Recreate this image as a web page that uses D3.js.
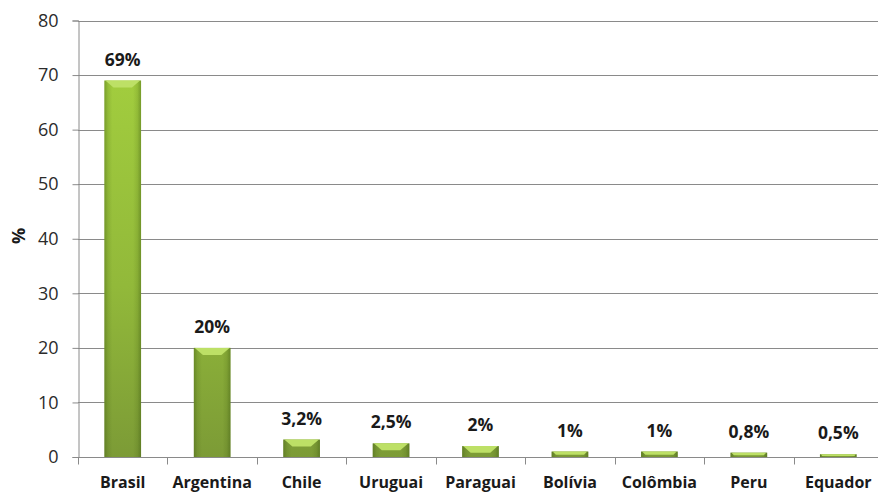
<!DOCTYPE html>
<html>
<head>
<meta charset="utf-8">
<script src="https://cdn.jsdelivr.net/npm/d3@7"></script>
<style>
  html, body { margin: 0; padding: 0; background: #fff; }
  svg { display: block; }
</style>
</head>
<body>
<svg id="chart" width="878" height="493"></svg>
<script>
const countries = ["Brasil", "Argentina", "Chile", "Uruguai", "Paraguai", "Bolívia", "Colômbia", "Peru", "Equador"];
const shares = [69, 20, 3.2, 2.5, 2, 1, 1, 0.8, 0.5];
const shareLabels = ["69%", "20%", "3,2%", "2,5%", "2%", "1%", "1%", "0,8%", "0,5%"];
const yTicks = [0, 10, 20, 30, 40, 50, 60, 70, 80];

const svg = d3.select("#chart");
const plotLeft = 78, plotRight = 883, plotTop = 20.5, plotBottom = 457;
const font = "'Open Sans', sans-serif";

const x = d3.scaleBand().domain(countries).range([plotLeft, plotRight]).paddingInner(0.59).paddingOuter(0.295);
const y = d3.scaleLinear().domain([0, 80]).range([plotBottom, plotTop]);

// bar gradients: bright top fading to olive at the base, darker side edges
const defs = svg.append("defs");
const gv = defs.append("linearGradient").attr("id", "barFill")
  .attr("gradientUnits", "userSpaceOnUse")
  .attr("x1", 0).attr("x2", 0).attr("y1", y(70)).attr("y2", plotBottom);
[[0, "#a2cd3e"], [0.55, "#92b93a"], [1, "#7c9b36"]]
  .forEach(([o, c]) => gv.append("stop").attr("offset", o).attr("stop-color", c));
const gh = defs.append("linearGradient").attr("id", "barEdge").attr("x1", "0").attr("x2", "1").attr("y1", "0").attr("y2", "0");
[[0, 0.35], [0.1, 0.12], [0.22, 0], [0.78, 0], [0.9, 0.12], [1, 0.38]]
  .forEach(([o, a]) => gh.append("stop").attr("offset", o).attr("stop-color", "#2f4a08").attr("stop-opacity", a));

// horizontal grid
svg.append("g")
  .selectAll("line")
  .data(yTicks.filter(d => d > 0))
  .join("line")
  .attr("x1", plotLeft).attr("x2", plotRight)
  .attr("y1", d => Math.round(y(d)) + 0.5).attr("y2", d => Math.round(y(d)) + 0.5)
  .attr("stroke", "#8a8a8a").attr("stroke-width", 1);

// y axis
const yAxis = svg.append("g")
  .attr("transform", `translate(${plotLeft + 0.5},0)`)
  .call(d3.axisLeft(y).tickValues(yTicks).tickSize(6).tickPadding(14).tickFormat(d3.format("d")));
yAxis.select(".domain").attr("stroke", "#8a8a8a");
yAxis.selectAll(".tick line").attr("stroke", "#8a8a8a");
yAxis.selectAll(".tick text")
  .attr("font-family", font).attr("font-size", 18).attr("fill", "#2b2b2b");

// x axis with ticks at category boundaries
const xAxisG = svg.append("g").attr("transform", `translate(0,${plotBottom + 0.5})`);
xAxisG.append("line").attr("x1", plotLeft).attr("x2", plotRight).attr("stroke", "#8a8a8a");
const step = x.step();
xAxisG.selectAll("line.b")
  .data(d3.range(countries.length + 1))
  .join("line").attr("class", "b")
  .attr("x1", i => Math.round(plotLeft + i * step) + 0.5).attr("x2", i => Math.round(plotLeft + i * step) + 0.5)
  .attr("y1", 0).attr("y2", 7)
  .attr("stroke", "#8a8a8a");
xAxisG.selectAll("text")
  .data(countries)
  .join("text")
  .attr("x", d => x(d) + x.bandwidth() / 2)
  .attr("y", 30.5)
  .attr("text-anchor", "middle")
  .attr("font-family", font).attr("font-weight", "bold")
  .attr("font-size", 16).attr("fill", "#1a1a1a")
  .text(d => d);

// y title
svg.append("text")
  .attr("transform", `translate(25,236) rotate(-90)`)
  .attr("text-anchor", "middle")
  .attr("font-family", font).attr("font-weight", "bold")
  .attr("font-size", 18).attr("fill", "#1a1a1a")
  .text("%");

// bars
const bars = svg.append("g").selectAll("g").data(countries).join("g");
bars.append("rect")
  .attr("x", d => x(d)).attr("width", x.bandwidth())
  .attr("y", (d, i) => y(shares[i])).attr("height", (d, i) => plotBottom - y(shares[i]))
  .attr("fill", "url(#barFill)");
bars.append("rect")
  .attr("x", d => x(d)).attr("width", x.bandwidth())
  .attr("y", (d, i) => y(shares[i])).attr("height", (d, i) => plotBottom - y(shares[i]))
  .attr("fill", "url(#barEdge)");
// bevelled top
bars.append("path")
  .attr("d", (d, i) => {
    const x0 = x(d), x1 = x0 + x.bandwidth(), t = y(shares[i]);
    const h = Math.min(7, (plotBottom - t) * 0.6), inset = h * 1.3;
    return `M${x0 + 1},${t}L${x1 - 1},${t}L${x1 - inset},${t + h}L${x0 + inset},${t + h}Z`;
  })
  .attr("fill", "#bde066");

// value labels
svg.append("g").selectAll("text")
  .data(countries)
  .join("text")
  .attr("x", d => x(d) + x.bandwidth() / 2)
  .attr("y", (d, i) => y(shares[i]) - 15)
  .attr("text-anchor", "middle")
  .attr("font-family", font).attr("font-weight", "bold")
  .attr("font-size", 17.5).attr("fill", "#1a1a1a")
  .text((d, i) => shareLabels[i]);
</script>
</body>
</html>
